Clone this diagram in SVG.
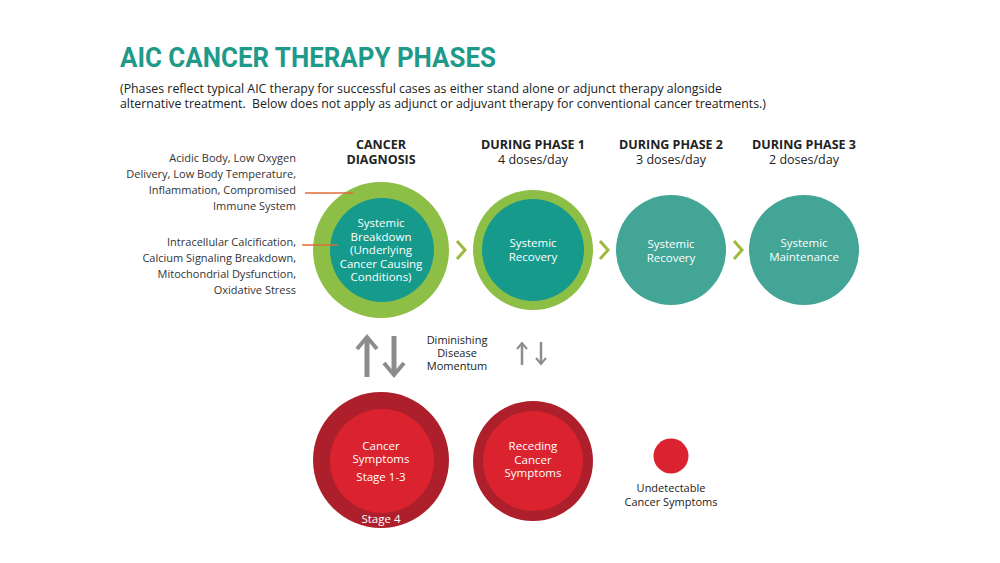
<svg xmlns="http://www.w3.org/2000/svg" width="1000" height="563" viewBox="0 0 1000 563">
<style>
.t{font-family:"Open Sans","Liberation Sans",sans-serif;}
.title{font-family:Roboto,"Liberation Sans",sans-serif;font-weight:700;font-size:27px;fill:#1f9a8a;}
.sub{font-size:12.5px;fill:#222;}
.side{font-size:11px;fill:#333;text-anchor:end;}
.hd{font-size:12.5px;font-weight:700;fill:#222;text-anchor:middle;}
.hs{font-size:12.5px;fill:#222;text-anchor:middle;}
.in{font-size:11.5px;fill:#fff;text-anchor:middle;}
.lbl{font-size:11px;fill:#222;text-anchor:middle;}
.ring{fill:#8dbf46;}
.teal{fill:#169a8c;}
.teal2{fill:#42a595;}
.rout{fill:#ad1f2b;}
.rin{fill:#da232e;}
.chev{fill:none;stroke:#9dba3f;stroke-width:3;}
.pt{stroke:#e06a3a;stroke-width:1.5;}
.ar{stroke:#8c8c8c;fill:none;}
</style>
<rect width="1000" height="563" fill="#fff"/>
<text class="title" x="120" y="67" textLength="376" lengthAdjust="spacingAndGlyphs">AIC CANCER THERAPY PHASES</text>
<text class="t sub" x="120" y="93" textLength="602" lengthAdjust="spacingAndGlyphs">(Phases reflect typical AIC therapy for successful cases as either stand alone or adjunct therapy alongside</text>
<text class="t sub" x="120" y="108" textLength="646" lengthAdjust="spacingAndGlyphs" xml:space="preserve">alternative treatment.  Below does not apply as adjunct or adjuvant therapy for conventional cancer treatments.)</text>

<g id="headers">
<text class="t hd" x="381" y="149">CANCER</text>
<text class="t hd" x="381" y="164">DIAGNOSIS</text>
<text class="t hd" x="533" y="149">DURING PHASE 1</text>
<text class="t hs" x="533" y="164">4 doses/day</text>
<text class="t hd" x="671" y="149">DURING PHASE 2</text>
<text class="t hs" x="671" y="164">3 doses/day</text>
<text class="t hd" x="804" y="149">DURING PHASE 3</text>
<text class="t hs" x="804" y="164">2 doses/day</text>
</g>

<g id="side-notes">
<text class="t side" x="296" y="162">Acidic Body, Low Oxygen</text>
<text class="t side" x="296" y="178">Delivery, Low Body Temperature,</text>
<text class="t side" x="296" y="194">Inflammation, Compromised</text>
<text class="t side" x="296" y="210">Immune System</text>
<text class="t side" x="296" y="246">Intracellular Calcification,</text>
<text class="t side" x="296" y="262">Calcium Signaling Breakdown,</text>
<text class="t side" x="296" y="278">Mitochondrial Dysfunction,</text>
<text class="t side" x="296" y="294">Oxidative Stress</text>
</g>

<g id="diagnosis">
<circle class="ring" cx="381" cy="250" r="68"/>
<circle class="teal" cx="382" cy="250" r="52"/>
<text class="t in" x="381" y="227">Systemic</text>
<text class="t in" x="381" y="241">Breakdown</text>
<text class="t in" x="381" y="254">(Underlying</text>
<text class="t in" x="381" y="268">Cancer Causing</text>
<text class="t in" x="381" y="281">Conditions)</text>
</g>

<g id="phase1">
<circle class="ring" cx="533" cy="250" r="60"/>
<circle class="teal" cx="533" cy="250" r="51"/>
<text class="t in" x="533" y="247">Systemic</text>
<text class="t in" x="533" y="261">Recovery</text>
</g>

<g id="phase2">
<circle class="teal2" cx="671" cy="250" r="55"/>
<text class="t in" x="671" y="248">Systemic</text>
<text class="t in" x="671" y="262">Recovery</text>
</g>

<g id="phase3">
<circle class="teal2" cx="804" cy="250" r="55"/>
<text class="t in" x="804" y="247">Systemic</text>
<text class="t in" x="804" y="261">Maintenance</text>
</g>

<g id="symptoms">
<circle class="rout" cx="381" cy="460" r="68"/>
<circle class="rin" cx="382" cy="461" r="52"/>
<text class="t in" x="381" y="450">Cancer</text>
<text class="t in" x="381" y="463">Symptoms</text>
<text class="t in" x="381" y="481">Stage 1-3</text>
<text class="t in" x="381" y="523">Stage 4</text>
</g>

<g id="receding">
<circle class="rout" cx="533" cy="461" r="60"/>
<circle class="rin" cx="533" cy="461" r="50"/>
<text class="t in" x="533" y="450">Receding</text>
<text class="t in" x="533" y="464">Cancer</text>
<text class="t in" x="533" y="477">Symptoms</text>
</g>

<g id="undetectable">
<circle class="rin" cx="671" cy="456" r="17.5"/>
<text class="t lbl" x="671" y="492">Undetectable</text>
<text class="t lbl" x="671" y="506">Cancer Symptoms</text>
</g>

<g id="momentum">
<text class="t lbl" x="457" y="344">Diminishing</text>
<text class="t lbl" x="457" y="357">Disease</text>
<text class="t lbl" x="457" y="370">Momentum</text>
</g>

<g id="connectors">
<line class="pt" x1="305" y1="193" x2="353" y2="193"/>
<line class="pt" x1="302" y1="245" x2="338" y2="245"/>
<polyline class="chev" points="457,241 465,250 457,259"/>
<polyline class="chev" points="600,241 608,250 600,259"/>
<polyline class="chev" points="734,241 742,250 734,259"/>
<line class="ar" x1="367" y1="377" x2="367" y2="338" stroke-width="5"/>
<polyline class="ar" points="357,349 367,337 377,349" stroke-width="4"/>
<line class="ar" x1="394" y1="336" x2="394" y2="374" stroke-width="5"/>
<polyline class="ar" points="384,363 394,375 404,363" stroke-width="4"/>
<line class="ar" x1="522" y1="365" x2="522" y2="343" stroke-width="2.5"/>
<polyline class="ar" points="517,349 522,343 527,349" stroke-width="2"/>
<line class="ar" x1="541" y1="342" x2="541" y2="364" stroke-width="2.5"/>
<polyline class="ar" points="536,358 541,364 546,358" stroke-width="2"/>
</g>
</svg>
